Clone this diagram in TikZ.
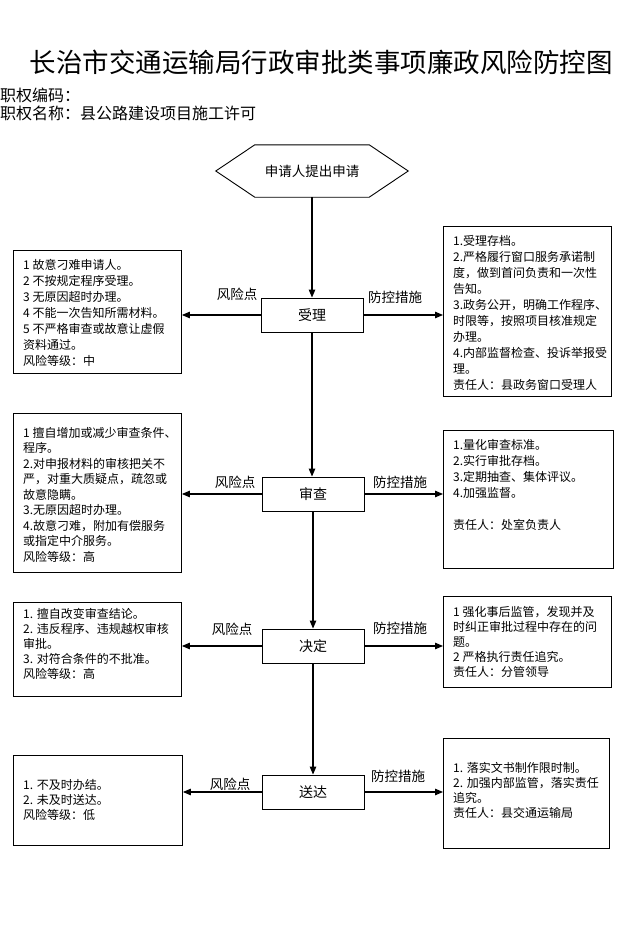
\documentclass[tikz,border=0pt]{standalone}
\usepackage{fontspec}
\setmainfont{Noto Sans CJK SC}
\usetikzlibrary{arrows.meta}
\begin{document}
\begin{tikzpicture}[x=1pt,y=-1pt]
\useasboundingbox[fill=white] (0,0) rectangle (643,931);
\tikzset{
 box/.style={draw, line width=0.9pt, anchor=north west, inner sep=0},
 stage/.style={draw, line width=0.9pt, minimum width=102pt, minimum height=34pt, inner sep=0, font=\fontsize{14}{16}\selectfont},
 txt/.style={anchor=north west, inner sep=0, align=left},
 lab/.style={inner sep=0, font=\fontsize{13.5}{16}\selectfont},
 arr/.style={line width=1.1pt, -{Triangle[length=8pt,width=6.5pt]}},
}
% title and header
\node[inner sep=0, font=\fontsize{26.5}{30}\selectfont] (title) at (321,62) {长治市交通运输局行政审批类事项廉政风险防控图};
\node[inner sep=0, anchor=west, font=\fontsize{16}{18}\selectfont] (code) at (0,95) {职权编码：};
\node[inner sep=0, anchor=west, font=\fontsize{16}{18}\selectfont] (name) at (0,113) {职权名称：县公路建设项目施工许可};

% start hexagon
\node[inner sep=0, minimum width=114pt, minimum height=52pt, font=\fontsize{13.5}{16}\selectfont] (H) at (312,171) {申请人提出申请};
\draw[line width=0.9pt] (H.north west) -- (H.north east) -- ([xshift=39pt]H.east) -- (H.south east) -- (H.south west) -- ([xshift=-39pt]H.west) -- cycle;

% stages
\node[stage] (S1) at (312,315) {受理};
\node[stage] (S2) at (313,494) {审查};
\node[stage] (S3) at (313,646) {决定};
\node[stage] (S4) at (313,792) {送达};

\draw[arr] (H.south) -- (S1.north);
\draw[arr] (S1.south) -- (S2.north -| S1.south);
\draw[arr] (S2.south) -- (S3.north);
\draw[arr] (S3.south) -- (S4.north);

% left boxes
\node[box, minimum width=168pt, minimum height=123pt] (L1) at (13,250) {};
\node[txt, font=\fontsize{12}{16}\selectfont] (L1t) at (23,259.5) {1 故意刁难申请人。\\2 不按规定程序受理。\\3 无原因超时办理。\\4 不能一次告知所需材料。\\5 不严格审查或故意让虚假\\资料通过。\\风险等级：中};

\node[box, minimum width=168pt, minimum height=159pt] (L2) at (13,413) {};
\node[txt, font=\fontsize{12}{15.5}\selectfont] (L2t) at (23,427) {1 擅自增加或减少审查条件、\\程序。\\2.对申报材料的审核把关不\\严，对重大质疑点，疏忽或\\故意隐瞒。\\3.无原因超时办理。\\4.故意刁难，附加有偿服务\\或指定中介服务。\\风险等级：高};

\node[box, minimum width=168pt, minimum height=94pt] (L3) at (13,602) {};
\node[txt, font=\fontsize{12}{15}\selectfont] (L3t) at (23,608.5) {1. 擅自改变审查结论。\\2. 违反程序、违规越权审核\\审批。\\3. 对符合条件的不批准。\\风险等级：高};

\node[box, minimum width=169pt, minimum height=90pt] (L4) at (13,755) {};
\node[txt, font=\fontsize{12}{15}\selectfont] (L4t) at (23,779.5) {1. 不及时办结。\\2. 未及时送达。\\风险等级：低};

% right boxes
\node[box, minimum width=168pt, minimum height=170pt] (R1) at (443,226) {};
\node[txt, font=\fontsize{12}{16}\selectfont] (R1t) at (453,235.5) {1.受理存档。\\2.严格履行窗口服务承诺制\\度，做到首问负责和一次性\\告知。\\3.政务公开，明确工作程序、\\时限等，按照项目核准规定\\办理。\\4.内部监督检查、投诉举报受\\理。\\责任人：县政务窗口受理人};

\node[box, minimum width=170pt, minimum height=138pt] (R2) at (443,430) {};
\node[txt, font=\fontsize{12}{16}\selectfont] (R2t) at (453,439.5) {1.量化审查标准。\\2.实行审批存档。\\3.定期抽查、集体评议。\\4.加强监督。\\[16pt]责任人：处室负责人};

\node[box, minimum width=168pt, minimum height=91pt] (R3) at (443,596) {};
\node[txt, font=\fontsize{12}{15}\selectfont] (R3t) at (453,606.5) {1 强化事后监管，发现并及\\时纠正审批过程中存在的问\\题。\\2 严格执行责任追究。\\责任人：分管领导};

\node[box, minimum width=166pt, minimum height=110pt] (R4) at (443,738) {};
\node[txt, font=\fontsize{12}{15}\selectfont] (R4t) at (453,762.5) {1. 落实文书制作限时制。\\2. 加强内部监管，落实责任\\追究。\\责任人：县交通运输局};

% horizontal arrows
\draw[arr] (S1.west) -- (S1.west -| L1.east);
\draw[arr] (S1.east) -- (S1.east -| R1.west);
\draw[arr] (S2.west) -- (S2.west -| L2.east);
\draw[arr] (S2.east) -- (S2.east -| R2.west);
\draw[arr] (S3.west) -- (S3.west -| L3.east);
\draw[arr] (S3.east) -- (S3.east -| R3.west);
\draw[arr] (S4.west) -- (S4.west -| L4.east);
\draw[arr] (S4.east) -- (S4.east -| R4.west);

% labels
\node[lab] (fx1) at (237,294) {风险点};
\node[lab] (fk1) at (395,297) {防控措施};
\node[lab] (fx2) at (235,482) {风险点};
\node[lab] (fk2) at (400,482) {防控措施};
\node[lab] (fx3) at (232,629) {风险点};
\node[lab] (fk3) at (400,628) {防控措施};
\node[lab] (fx4) at (230,784) {风险点};
\node[lab] (fk4) at (398,776) {防控措施};
\end{tikzpicture}
\end{document}
